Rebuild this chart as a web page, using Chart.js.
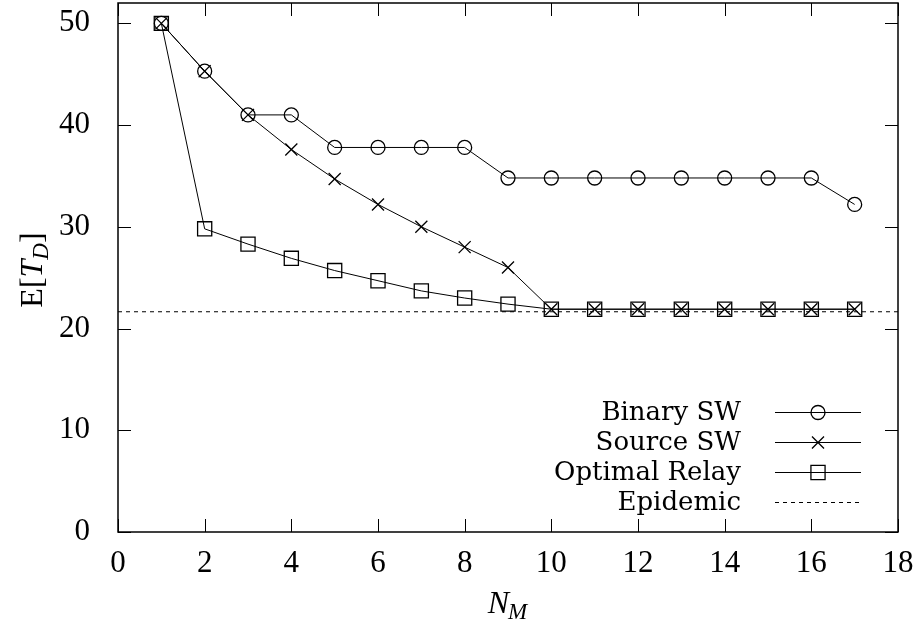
<!DOCTYPE html>
<html>
<head>
<meta charset="utf-8">
<script src="https://cdn.jsdelivr.net/npm/chart.js@4"></script>
<style>
  html, body { margin: 0; padding: 0; background: #fff; }
  #wrap { width: 915px; height: 627px; }
</style>
</head>
<body>
<div id="wrap"><canvas id="tdChart" width="915" height="627"></canvas></div>
<script>
// N_M values
const nm = [1, 2, 3, 4, 5, 6, 7, 8, 9, 10, 11, 12, 13, 14, 15, 16, 17];
const binarySW = [50, 45.3, 41.0, 41.0, 37.8, 37.8, 37.8, 37.8, 34.8, 34.8, 34.8, 34.8, 34.8, 34.8, 34.8, 34.8, 32.2];
const sourceSW = [50, 45.3, 41.0, 37.6, 34.7, 32.2, 30.0, 28.0, 26.0, 21.9, 21.9, 21.9, 21.9, 21.9, 21.9, 21.9, 21.9];
const optimalRelay = [50, 29.8, 28.3, 26.9, 25.7, 24.7, 23.7, 23.0, 22.4, 21.9, 21.9, 21.9, 21.9, 21.9, 21.9, 21.9, 21.9];
const epidemicX = [0, 18];
const epidemicLevel = 21.65;

const xTicks = [0, 2, 4, 6, 8, 10, 12, 14, 16, 18];
const yTicks = [0, 10, 20, 30, 40, 50];

const tickFont = "Liberation Serif";
const legendFont = "DejaVu Serif";

const pts = (ys) => nm.map((x, i) => ({ x: x, y: ys[i] }));

// chart.js reserves room for overhanging labels; the frame here is fixed
const noPad = s => { s.paddingLeft = 0; s.paddingRight = 0; s.paddingTop = 0; s.paddingBottom = 0; };

// gnuplot-like frame: box, inward ticks on all four sides, legend, axis titles
const framePlugin = {
    id: "frame",
    afterDraw(chart) {
        const ctx = chart.ctx;
        const a = chart.chartArea;
        const xs = chart.scales.x, ys = chart.scales.y;
        ctx.save();
        ctx.strokeStyle = "#000";
        ctx.lineWidth = 1.5;
        ctx.strokeRect(a.left, a.top, a.right - a.left, a.bottom - a.top);

        ctx.lineWidth = 1;
        const tl = 13;
        ctx.beginPath();
        xTicks.forEach(v => {
            const px = Math.round(xs.getPixelForValue(v)) + 0.5;
            ctx.moveTo(px, a.bottom); ctx.lineTo(px, a.bottom - tl);
            ctx.moveTo(px, a.top); ctx.lineTo(px, a.top + tl);
        });
        yTicks.forEach(v => {
            const py = Math.round(ys.getPixelForValue(v)) + 0.5;
            ctx.moveTo(a.left, py); ctx.lineTo(a.left + tl, py);
            ctx.moveTo(a.right, py); ctx.lineTo(a.right - tl, py);
        });
        ctx.stroke();

        // legend
        const textRight = 741, lineL = 775, lineR = 861, rowY = [412, 442, 472, 502];
        ctx.font = "26px '" + legendFont + "'";
        ctx.textAlign = "right";
        ctx.textBaseline = "middle";
        chart.data.datasets.forEach((ds, i) => {
            const y = rowY[i];
            ctx.fillStyle = "#000";
            ctx.fillText(ds.label, textRight, y + 1);
            ctx.save();
            ctx.lineWidth = ds.borderWidth;
            ctx.setLineDash(ds.borderDash || []);
            ctx.beginPath();
            ctx.moveTo(lineL, y + 0.5); ctx.lineTo(lineR, y + 0.5);
            ctx.stroke();
            ctx.restore();
            if (ds.pointRadius > 0) {
                ctx.save();
                ctx.lineWidth = ds.pointBorderWidth;
                ctx.fillStyle = "rgba(0,0,0,0)";
                Chart.helpers.drawPoint(ctx, {
                    pointStyle: ds.pointStyle, radius: ds.pointRadius, rotation: 0, borderWidth: ds.pointBorderWidth
                }, (lineL + lineR) / 2, y + 0.5);
                ctx.restore();
            }
        });

        // x title: N_M
        ctx.fillStyle = "#000";
        ctx.textAlign = "left";
        ctx.textBaseline = "alphabetic";
        ctx.font = "italic 32px '" + tickFont + "'";
        const nW = ctx.measureText("N").width;
        ctx.font = "italic 23px '" + tickFont + "'";
        const mW = ctx.measureText("M").width;
        let x0 = (a.left + a.right) / 2 - (nW + mW) / 2;
        ctx.font = "italic 32px '" + tickFont + "'";
        ctx.fillText("N", x0, 613);
        ctx.font = "italic 23px '" + tickFont + "'";
        ctx.fillText("M", x0 + nW - 1, 619);

        // y title: E[T_D]
        ctx.save();
        ctx.translate(42, 270);
        ctx.rotate(-Math.PI / 2);
        const parts = [
            ["E[", "32px", 0], ["T", "italic 32px", 0], ["D", "italic 23px", 6], ["]", "32px", 0]
        ];
        let total = 0;
        parts.forEach(p => { ctx.font = p[1] + " '" + tickFont + "'"; total += ctx.measureText(p[0]).width; });
        let cx = -total / 2;
        parts.forEach(p => {
            ctx.font = p[1] + " '" + tickFont + "'";
            ctx.fillText(p[0], cx, p[2]);
            cx += ctx.measureText(p[0]).width;
        });
        ctx.restore();

        ctx.restore();
    }
};

new Chart(document.getElementById("tdChart"), {
    type: "line",
    data: {
        datasets: [{
            label: "Binary SW",
            data: pts(binarySW),
            borderColor: "#000",
            borderWidth: 1,
            pointStyle: "circle",
            pointRadius: 7,
            pointBorderWidth: 1.3,
            pointBackgroundColor: "rgba(0,0,0,0)",
            pointBorderColor: "#000"
        }, {
            label: "Source SW",
            data: pts(sourceSW),
            borderColor: "#000",
            borderWidth: 1,
            pointStyle: "crossRot",
            pointRadius: 8.5,
            pointBorderWidth: 1.3,
            pointBorderColor: "#000"
        }, {
            label: "Optimal Relay",
            data: pts(optimalRelay),
            borderColor: "#000",
            borderWidth: 1,
            pointStyle: "rect",
            pointRadius: 10,
            pointBorderWidth: 1.3,
            pointBackgroundColor: "rgba(0,0,0,0)",
            pointBorderColor: "#000"
        }, {
            label: "Epidemic",
            data: epidemicX.map(x => ({ x: x, y: epidemicLevel })),
            borderColor: "#000",
            borderWidth: 1,
            borderDash: [4, 4],
            pointRadius: 0
        }]
    },
    options: {
        responsive: false,
        animation: false,
        devicePixelRatio: 1,
        layout: { autoPadding: false, padding: { left: 0, right: 17, top: 3, bottom: 0 } },
        scales: {
            x: {
                type: "linear",
                min: 0,
                max: 18,
                afterFit: s => { s.height = 95; noPad(s); },
                grid: { display: false, drawTicks: false },
                border: { display: false },
                ticks: {
                    stepSize: 2,
                    padding: 13,
                    color: "#000",
                    font: { family: tickFont, size: 31 }
                }
            },
            y: {
                min: 0,
                max: 52,
                afterFit: s => { s.width = 118; noPad(s); },
                grid: { display: false, drawTicks: false },
                border: { display: false },
                ticks: {
                    stepSize: 10,
                    includeBounds: false,
                    padding: 28,
                    color: "#000",
                    font: { family: tickFont, size: 31 }
                }
            }
        },
        plugins: {
            legend: { display: false },
            tooltip: { enabled: false }
        }
    },
    plugins: [framePlugin]
});
</script>
</body>
</html>
